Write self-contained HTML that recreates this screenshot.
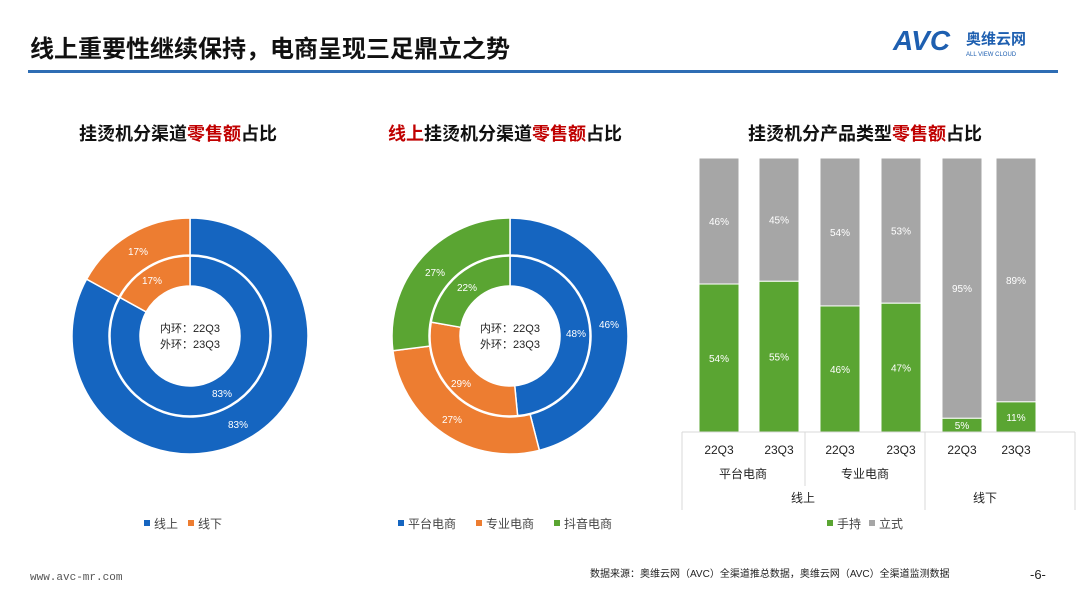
<!DOCTYPE html>
<html><head><meta charset="utf-8"><style>
body{margin:0;width:1080px;height:608px;background:#fff;overflow:hidden;font-family:"Liberation Sans","Noto Sans CJK SC",sans-serif;}
svg{position:absolute;left:0;top:0}
</style></head><body>
<svg id="s" width="1080" height="608" xmlns="http://www.w3.org/2000/svg" font-family="Liberation Sans, Noto Sans CJK SC, sans-serif">
<text x="30" y="57" font-size="24" font-weight="bold" fill="#111">线上重要性继续保持，电商呈现三足鼎立之势</text>
<rect x="28" y="70" width="1030" height="3" fill="#2e6db4"/>
<text x="893" y="50" font-size="28" font-weight="bold" fill="#1e5fb0" font-style="italic">AVC</text>
<text x="966" y="44" font-size="15" font-weight="bold" fill="#1e5fb0">奥维云网</text>
<text x="966" y="56" font-size="6" fill="#1e5fb0">ALL VIEW CLOUD</text>
<text x="178" y="140" font-size="18" font-weight="bold" text-anchor="middle" fill="#111">挂烫机分渠道<tspan fill="#c00000">零售额</tspan>占比</text>
<text x="505" y="140" font-size="18" font-weight="bold" text-anchor="middle" fill="#111"><tspan fill="#c00000">线上</tspan>挂烫机分渠道<tspan fill="#c00000">零售额</tspan>占比</text>
<text x="865" y="140" font-size="18" font-weight="bold" text-anchor="middle" fill="#111">挂烫机分产品类型<tspan fill="#c00000">零售额</tspan>占比</text>
<g id="d"></g>
<g font-size="11" fill="#222" text-anchor="middle">
<text x="190" y="332">内环：22Q3</text><text x="190" y="348">外环：23Q3</text>
<text x="510" y="332">内环：22Q3</text><text x="510" y="348">外环：23Q3</text>
</g>
<g id="lab" font-size="10" fill="#fff" text-anchor="middle">
<text x="138" y="255">17%</text><text x="152" y="284">17%</text>
<text x="222" y="397">83%</text><text x="238" y="428">83%</text>
<text x="609" y="328">46%</text><text x="576" y="337">48%</text>
<text x="452" y="423">27%</text><text x="461" y="387">29%</text>
<text x="435" y="276">27%</text><text x="467" y="291">22%</text>
</g>
<g id="b"></g>
<g stroke="#d9d9d9" fill="none">
<line x1="682" y1="432" x2="1075" y2="432"/>
<line x1="682" y1="432" x2="682" y2="510"/><line x1="805" y1="432" x2="805" y2="486"/>
<line x1="925" y1="432" x2="925" y2="510"/><line x1="1075" y1="432" x2="1075" y2="510"/>
</g>
<g font-size="12" fill="#222" text-anchor="middle">
<text x="719" y="454">22Q3</text><text x="779" y="454">23Q3</text><text x="840" y="454">22Q3</text><text x="901" y="454">23Q3</text><text x="962" y="454">22Q3</text><text x="1016" y="454">23Q3</text>
<text x="743" y="478">平台电商</text><text x="865" y="478">专业电商</text>
<text x="803" y="502">线上</text><text x="985" y="502">线下</text>
</g>
<g font-size="12" fill="#444">
<rect x="144" y="520" width="6" height="6" fill="#1565c0"/><text x="154" y="528">线上</text>
<rect x="188" y="520" width="6" height="6" fill="#ed7d31"/><text x="198" y="528">线下</text>
<rect x="398" y="520" width="6" height="6" fill="#1565c0"/><text x="408" y="528">平台电商</text>
<rect x="476" y="520" width="6" height="6" fill="#ed7d31"/><text x="486" y="528">专业电商</text>
<rect x="554" y="520" width="6" height="6" fill="#5aa532"/><text x="564" y="528">抖音电商</text>
<rect x="827" y="520" width="6" height="6" fill="#5aa532"/><text x="837" y="528">手持</text>
<rect x="869" y="520" width="6" height="6" fill="#a6a6a6"/><text x="879" y="528">立式</text>
</g>
<text x="30" y="580" font-size="11" fill="#555" font-family="Liberation Mono, monospace">www.avc-mr.com</text>
<text x="590" y="577" font-size="10" fill="#222">数据来源：奥维云网（AVC）全渠道推总数据，奥维云网（AVC）全渠道监测数据</text>
<text x="1030" y="579" font-size="13" fill="#222">-6-</text>
</svg>
<script>
var NS="http://www.w3.org/2000/svg";
function arc(g,cx,cy,r1,r2,a0,a1,c){var f=function(r,a){a=(a-90)*Math.PI/180;return [cx+r*Math.cos(a),cy+r*Math.sin(a)]};
var l=(a1-a0)>180?1:0,p1=f(r2,a0),p2=f(r2,a1),p3=f(r1,a1),p4=f(r1,a0);
var p=document.createElementNS(NS,"path");p.setAttribute("d","M"+p1+"A"+r2+","+r2+" 0 "+l+" 1 "+p2+"L"+p3+"A"+r1+","+r1+" 0 "+l+" 0 "+p4+"Z");
p.setAttribute("fill",c);p.setAttribute("stroke","#fff");p.setAttribute("stroke-width","1.5");g.appendChild(p);}
function ring(cx,cy,r1,r2,vals,cols){var g=document.getElementById("d"),s=0,t=vals.reduce((a,b)=>a+b);vals.forEach(function(v,i){var a0=s/t*360;s+=v;arc(g,cx,cy,r1,r2,a0,s/t*360,cols[i]);});}
var B="#1565c0",O="#ed7d31",G="#5aa532";
ring(190,336,81,118,[83,17],[B,O]);ring(190,336,50,80,[83,17],[B,O]);
ring(510,336,81,118,[46,27,27],[B,O,G]);ring(510,336,50,80,[48,29,22],[B,O,G]);
var b=document.getElementById("b"),xs=[719,779,840,901,962,1016],g=[54,55,46,47,5,11],h=274,base=432;
xs.forEach(function(x,i){var gh=g[i]/100*h;
var r1=document.createElementNS(NS,"rect");r1.setAttribute("x",x-20);r1.setAttribute("y",158);r1.setAttribute("width",40);r1.setAttribute("height",h-gh);r1.setAttribute("fill","#a6a6a6");r1.setAttribute("stroke","#fff");b.appendChild(r1);
var r2=document.createElementNS(NS,"rect");r2.setAttribute("x",x-20);r2.setAttribute("y",base-gh);r2.setAttribute("width",40);r2.setAttribute("height",gh);r2.setAttribute("fill",G);r2.setAttribute("stroke","#fff");b.appendChild(r2);
function t(y,s){var e=document.createElementNS(NS,"text");e.setAttribute("x",x);e.setAttribute("y",y);e.setAttribute("font-size","10");e.setAttribute("fill","#fff");e.setAttribute("text-anchor","middle");e.textContent=s;b.appendChild(e);}
t(158+(h-gh)/2+4,(100-g[i])+"%");t(base-gh/2+4,g[i]+"%");});
</script>
</body></html>
